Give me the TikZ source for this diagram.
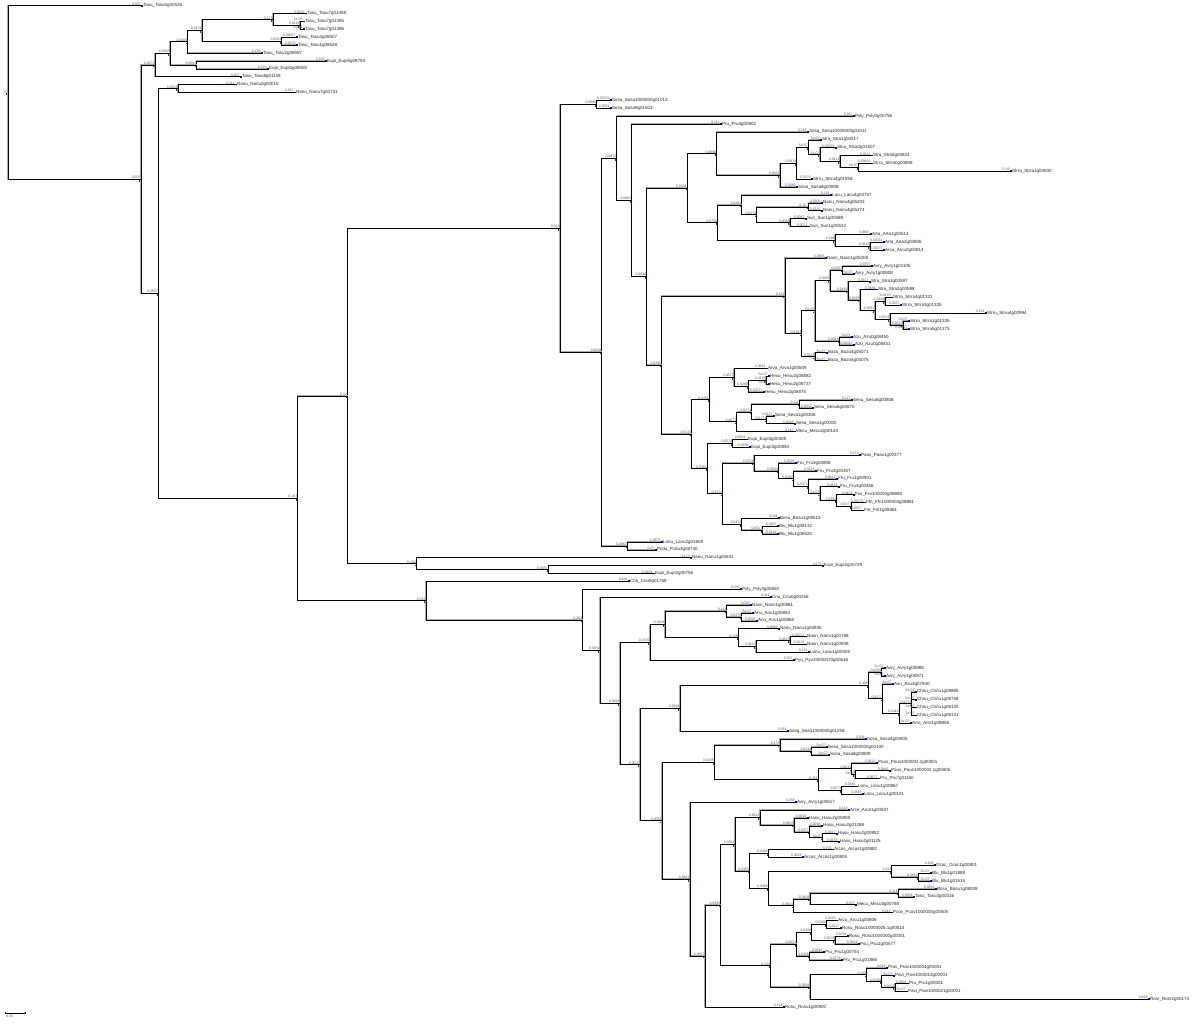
\documentclass[tikz,border=0pt]{standalone}
\usepackage{fontspec}
\setmainfont{Liberation Sans}
\usetikzlibrary{calc}
\tikzset{
 br/.style={line width=0.5pt, black, preaction={draw=gray!65, line width=1.3pt}},
 bl/.style={font=\fontsize{3.5}{4}\selectfont, text=black!65, inner sep=0.25pt, anchor=south east},
 nm/.style={font=\fontsize{4.5}{5}\selectfont, text=black!85, inner sep=0pt, anchor=west},
 leafmark/.style={fill=blue!75!black},
 nodemark/.style={fill=red!80!black},
}
\newcommand\Lf[5]{\coordinate (#1) at (#2,{5.7+7.886*#3});
 \fill[leafmark] ($(#1)+(0.3,0.9)$) rectangle ++(1.2,-1.8);
 \node[nm] at ($(#1)+(1.8,0)$) {#4\_#5};}
\newcommand\Nd[6]{\coordinate (tmpm) at ($(#3)!0.5!(#5)$);
 \coordinate (tmpx) at (#2,0);
 \coordinate (#1) at (tmpm -| tmpx);
 \draw[br] (#3) -- (#3 -| #1) -- (#5 -| #1) -- (#5);
 \node[bl] at (#3) {#4};
 \node[bl] at (#5) {#6};
 \fill[nodemark] ($(#1)+(-1.7,0.9)$) rectangle ++(1,1.5);}
\newcommand\Br[3]{\draw[br] (#2 -| #1) -- (#2); \node[bl] at (#2) {#3};}
\begin{document}
\begin{tikzpicture}[x=1pt,y=-1pt]
\fill[white] (0,0) rectangle (1200,1024);
\useasboundingbox (0,0) rectangle (1200,1024);
% ---------------- leaves ----------------
\Lf{L0}{141}{0}{Tasu}{Tasu0g00526}
\Lf{L1}{305}{1}{Tasu}{Tasu7g01459}
\Lf{L2}{303}{2}{Tasu}{Tasu7g01395}
\Lf{L3}{303}{3}{Tasu}{Tasu7g01396}
\Lf{L4}{296}{4}{Tasu}{Tasu4g08507}
\Lf{L5}{296}{5}{Tasu}{Tasu1g08528}
\Lf{L6}{261}{6}{Tasu}{Tasu2g08597}
\Lf{L7}{325}{7}{Eupi}{Eupi5g08754}
\Lf{L8}{267}{8}{Eupi}{Eupi0g08550}
\Lf{L9}{240}{9}{Tasu}{Tasu8g01159}
\Lf{L10}{235}{10}{Nanu}{Nanu2g00015}
\Lf{L11}{294}{11}{Nanu}{Nanu7g00731}
\Lf{L12}{610}{12}{Sosa}{Sosa1000000g01013}
\Lf{L13}{610}{13}{Sosa}{Sosa9g01503}
\Lf{L14}{853}{14}{Pxly}{Pxly0g00756}
\Lf{L15}{720}{15}{Pru}{Pru4g00802}
\Lf{L16}{807}{16}{Sosq}{Sosq10000000g01011}
\Lf{L17}{820}{17}{Stra}{Stra1g00517}
\Lf{L18}{835}{18}{Stca}{Stca0g01507}
\Lf{L19}{871}{19}{Stra}{Stra5g00824}
\Lf{L20}{871}{20}{Strra}{Strra0g00808}
\Lf{L21}{1010}{21}{Strra}{Strra1g00830}
\Lf{L22}{811}{22}{Strru}{Strru4g01858}
\Lf{L23}{796}{23}{Sosa}{Sosa8g00808}
\Lf{L24}{830}{24}{Lacu}{Lacu4g00757}
\Lf{L25}{821}{25}{Nanu}{Nanu4g05203}
\Lf{L26}{821}{26}{Nanu}{Nanu4g05274}
\Lf{L27}{805}{27}{Sun}{Sun1g00588}
\Lf{L28}{808}{28}{Sun}{Sun1g00522}
\Lf{L29}{870}{29}{Arta}{Arta1g00514}
\Lf{L30}{883}{30}{Arta}{Arta2g00806}
\Lf{L31}{883}{31}{Arcu}{Arcu2g00814}
\Lf{L32}{825}{32}{Nasn}{Nasn1g05008}
\Lf{L33}{871}{33}{Avry}{Avry1g01105}
\Lf{L34}{853}{34}{Avry}{Avry1g00808}
\Lf{L35}{869}{35}{Stra}{Stra1g00597}
\Lf{L36}{876}{36}{Stra}{Stra2g00598}
\Lf{L37}{891}{37}{Strra}{Strra4g01331}
\Lf{L38}{900}{38}{Strra}{Strra3g01335}
\Lf{L39}{985}{39}{Strru}{Strru4g00994}
\Lf{L40}{908}{40}{Strra}{Strra1g01335}
\Lf{L41}{908}{41}{Strra}{Strra5g01375}
\Lf{L42}{851}{42}{Azu}{Azu0g08450}
\Lf{L43}{853}{43}{Azu}{Azu0g08451}
\Lf{L44}{826}{44}{Bazo}{Bazo4g05071}
\Lf{L45}{826}{45}{Bazo}{Bazo4g05075}
\Lf{L46}{766}{46}{Arva}{Arva1g00509}
\Lf{L47}{768}{47}{Hexu}{Hexu2g08882}
\Lf{L48}{768}{48}{Hexu}{Hexu2g08737}
\Lf{L49}{763}{49}{Hexu}{Hexu2g08875}
\Lf{L50}{851}{50}{Sesu}{Sesu6g00808}
\Lf{L51}{812}{51}{Sesu}{Sesu6g00870}
\Lf{L52}{773}{52}{Sesa}{Sesa1g00308}
\Lf{L53}{794}{53}{Sesa}{Sesa1g00300}
\Lf{L54}{794}{54}{Mecu}{Mecu2g00143}
\Lf{L55}{746}{55}{Eupi}{Eupi3g00308}
\Lf{L56}{749}{56}{Eupi}{Eupi3g00850}
\Lf{L57}{859}{57}{Paax}{Paax1g00377}
\Lf{L58}{795}{58}{Fru}{Fru3g00808}
\Lf{L59}{815}{59}{Fru}{Fru3g00357}
\Lf{L60}{836}{60}{Fru}{Fru1g00901}
\Lf{L61}{838}{61}{Fru}{Fru4g00356}
\Lf{L62}{853}{62}{Fxx}{Fxx100000g08885}
\Lf{L63}{864}{63}{Ffn}{Ffn1000004g08881}
\Lf{L64}{862}{64}{Fnt}{Fnt1g08461}
\Lf{L65}{778}{65}{Bosu}{Bosu1g08515}
\Lf{L66}{777}{66}{Blu}{Blu1g08132}
\Lf{L67}{777}{67}{Blu}{Blu1g08520}
\Lf{L68}{661}{68}{Lonu}{Lonu2g01808}
\Lf{L69}{655}{69}{Pcdu}{Pcdu3g08740}
\Lf{L70}{690}{70}{Nanu}{Nanu1g00631}
\Lf{L71}{822}{71}{Eupi}{Eupi2g00729}
\Lf{L72}{653}{72}{Eupi}{Eupi2g00756}
\Lf{L73}{628}{73}{Cnu}{Cnu9g01768}
\Lf{L74}{740}{74}{Pxly}{Pxly3g00650}
\Lf{L75}{770}{75}{Cnu}{Cnu0g00256}
\Lf{L76}{750}{76}{Nasn}{Nasn1g00861}
\Lf{L77}{752}{77}{Anu}{Anu1g00854}
\Lf{L78}{756}{78}{Anu}{Anu1g00865}
\Lf{L79}{778}{79}{Nanu}{Nanu1g00835}
\Lf{L80}{805}{80}{Nann}{Nann1g00788}
\Lf{L81}{805}{81}{Nann}{Nann1g00938}
\Lf{L82}{808}{82}{Lonu}{Lonu1g00505}
\Lf{L83}{793}{83}{Pyu}{Pyu10000070g00616}
\Lf{L84}{884}{84}{Avry}{Avry1g00888}
\Lf{L85}{884}{85}{Avry}{Avry1g00871}
\Lf{L86}{892}{86}{Asu}{Asu3g07940}
\Lf{L87}{915}{87}{Chnu}{Chnu1g08885}
\Lf{L88}{915}{88}{Chnu}{Chnu1g08758}
\Lf{L89}{915}{89}{Chnu}{Chnu1g08125}
\Lf{L90}{915}{90}{Chnu}{Chnu1g08131}
\Lf{L91}{910}{91}{Arro}{Arro1g08858}
\Lf{L92}{787}{92}{Sosq}{Sosq1000000g01258}
\Lf{L93}{865}{93}{Sosa}{Sosa4g00805}
\Lf{L94}{826}{94}{Sosa}{Sosa1000000g00100}
\Lf{L95}{828}{95}{Sosa}{Sosa8g00809}
\Lf{L96}{876}{96}{Pous}{Pous1000002.1g00001}
\Lf{L97}{889}{97}{Pous}{Pous1000002.1g00005}
\Lf{L98}{878}{98}{Pru}{Pru7g01150}
\Lf{L99}{856}{99}{Lonu}{Lonu1g00867}
\Lf{L100}{862}{100}{Lonu}{Lonu1g00101}
\Lf{L101}{795}{101}{Avry}{Avry1g00617}
\Lf{L102}{848}{102}{Arce}{Arce1g00507}
\Lf{L103}{807}{103}{Hasu}{Hasu2g00808}
\Lf{L104}{821}{104}{Hasu}{Hasu2g01288}
\Lf{L105}{836}{105}{Hasu}{Hasu2g00882}
\Lf{L106}{838}{106}{Hasu}{Hasu2g01125}
\Lf{L107}{832}{107}{Arcos}{Arcos1g00882}
\Lf{L108}{802}{108}{Arcos}{Arcos1g00805}
\Lf{L109}{934}{109}{Ococ}{Ococ1g00801}
\Lf{L110}{930}{110}{Blu}{Blu1g01888}
\Lf{L111}{930}{111}{Blu}{Blu1g01515}
\Lf{L112}{935}{112}{Bosu}{Bosu1g08008}
\Lf{L113}{913}{113}{Tasu}{Tasu3g00316}
\Lf{L114}{855}{114}{Mecu}{Mecu3g00768}
\Lf{L115}{891}{115}{Pcov}{Pcov1000000g00505}
\Lf{L116}{836}{116}{Arcu}{Arcu1g00806}
\Lf{L117}{840}{117}{Rosu}{Rosu10000005.1g00014}
\Lf{L118}{847}{118}{Rosu}{Rosu1000000g00001}
\Lf{L119}{858}{119}{Psu}{Psu1g00577}
\Lf{L120}{823}{120}{Pru}{Pru1g00754}
\Lf{L121}{841}{121}{Pru}{Pru1g01866}
\Lf{L122}{886}{122}{Prav}{Prav1000004g00001}
\Lf{L123}{893}{123}{Pavi}{Pavi1000013g00001}
\Lf{L124}{907}{124}{Pru}{Pru1g00001}
\Lf{L125}{906}{125}{Pavi}{Pavi1000021g00001}
\Lf{L126}{1148}{126}{Rosr}{Rosr2g00174}
\Lf{L127}{783}{127}{Rosu}{Rosu1g00900}
% ---------------- top clade ----------------
\Nd{n300}{300}{L2}{1e-06}{L3}{1e-06}
\Nd{n273}{273}{L1}{0.0502}{n300}{0.0118}
\Nd{n282}{281.7}{L4}{0.00007}{L5}{0.0378}
\Nd{n202}{202}{n273}{0.172}{n282}{0.0564}
\Nd{n188}{187.7}{n202}{0.0479}{L6}{0.176}
\Nd{n197}{196.7}{L7}{0.335}{L8}{0.159}
\Nd{n170}{170}{n188}{0.0408}{n197}{0.0504}
\Nd{n155}{155}{n170}{0.0368}{L9}{0.207}
\Nd{n178}{178}{L10}{0.111}{L11}{0.287}
% ---------------- central clade ----------------
\Nd{n597}{596.7}{L12}{0.00705}{L13}{0.0281}
\Nd{n858}{858.3}{L20}{0.00603}{L21}{0.18}
\Nd{n840}{840}{L19}{0.0312}{n858}{5e-07}
\Nd{n820}{820}{L18}{0.00703}{n840}{0.0413}
\Nd{n808}{808.3}{L17}{5e-07}{n820}{5e-07}
\Nd{n797}{796.7}{n808}{5e-07}{L22}{0.0379}
\Nd{n780}{780}{n797}{0.0813}{L23}{0.0389}
\Nd{n717}{716.7}{L16}{0.219}{n780}{0.0554}
\Nd{n808b}{808.3}{L25}{0.0305}{L26}{0.0325}
\Nd{n790}{790}{L27}{0.0067}{L28}{0.0071}
\Nd{n757}{756.7}{n808b}{0.117}{n790}{0.0086}
\Nd{n742}{741.7}{L24}{0.216}{n757}{0.0174}
\Nd{n870}{870}{L30}{0.00311}{L31}{0.00375}
\Nd{n835}{835}{L29}{0.0863}{n870}{0.0322}
\Nd{n718}{717.7}{n742}{0.0263}{n835}{0.196}
\Nd{n687}{687.3}{n717}{0.0686}{n718}{0.0756}
\Nd{nG}{842.7}{L33}{0.0707}{L34}{5e-07}
\Nd{nA}{885}{L37}{0.0179}{L38}{0.0337}
\Nd{nC2}{903}{L40}{5e-07}{L41}{0.00417}
\Nd{nB}{890}{L39}{0.234}{nC2}{0.0323}
\Nd{n875}{875}{nA}{0.0244}{nB}{0.0376}
\Nd{n860}{860}{L36}{0.0389}{n875}{0.0367}
\Nd{n848}{848}{L35}{0.0517}{n860}{0.0295}
\Nd{n830}{830}{nG}{0.0307}{n848}{0.0419}
\Nd{nF}{839.3}{L42}{5e-07}{L43}{0.00411}
\Nd{n815c}{815}{n830}{0.0285}{nF}{0.0618}
\Nd{n815d}{815}{L44}{5e-07}{L45}{5e-07}
\Nd{n802}{801.7}{n815c}{5e-07}{n815d}{0.0328}
\Nd{n785}{785}{L32}{0.0966}{n802}{0.0383}
\Nd{n766}{766}{L47}{5e-07}{L48}{5e-07}
\Nd{n748}{748.3}{n766}{0.0135}{L49}{0.00727}
\Nd{n734}{734}{L46}{0.0681}{n748}{0.0288}
\Nd{n799}{799.3}{L50}{0.127}{L51}{0.0356}
\Nd{n767}{766.7}{L52}{0.0137}{L53}{0.0348}
\Nd{n752}{751.7}{n799}{0.111}{n767}{0.0171}
\Nd{n737}{736.7}{n752}{0.0274}{L54}{0.142}
\Nd{n709}{709.3}{n734}{0.0637}{n737}{0.0677}
\Nd{n733}{732.7}{L55}{0.0334}{L56}{0.0388}
\Nd{n852}{851.7}{L63}{0.00775}{L64}{0.0257}
\Nd{n837}{836.7}{L62}{0.0454}{n852}{0.0377}
\Nd{n820b}{820}{L61}{0.0434}{n837}{0.0391}
\Nd{n808c}{808.3}{L60}{0.0647}{n820b}{5e-07}
\Nd{n793}{793.3}{L59}{0.0521}{n808c}{0.0373}
\Nd{n778}{778.3}{L58}{0.0398}{n793}{0.0392}
\Nd{n754}{754}{L57}{0.253}{n778}{0.0604}
\Nd{n763}{762.7}{L66}{0.0387}{L67}{0.0314}
\Nd{n742b}{741.7}{L65}{0.098}{n763}{0.0517}
\Nd{n723}{722.7}{n754}{0.0734}{n742b}{0.0474}
\Nd{n707}{707.3}{n733}{0.0579}{n723}{0.0372}
\Nd{n692}{691.7}{n709}{0.0441}{n707}{0.0394}
\Nd{n662}{661.7}{n785}{0.182}{n692}{0.0725}
\Nd{n647}{646.7}{n687}{0.0506}{n662}{0.0395}
\Nd{n632}{631.7}{L15}{0.111}{n647}{0.0626}
\Nd{n617}{616.7}{L14}{0.367}{n632}{0.0863}
\Nd{n627}{627.3}{L68}{0.0875}{L69}{0.07}
\Nd{n602}{601.7}{n617}{0.0872}{n627}{0.0862}
\Nd{n560}{560}{n597}{0.0085}{n602}{0.0848}
\Nd{n548}{548.3}{L71}{0.675}{L72}{0.0484}
\Nd{n416}{416.4}{L70}{0.473}{n548}{0.0457}
\Nd{n348}{347.5}{n560}{0.563}{n416}{0.166}
% ---------------- bottom clade ----------------
\Nd{n742c}{741.7}{L77}{5e-07}{L78}{0.0395}
\Nd{n727}{726.7}{L76}{0.058}{n742c}{0.0375}
\Nd{n790b}{790}{L80}{0.00727}{L81}{0.0176}
\Nd{n756}{756}{n790b}{0.0813}{L82}{0.131}
\Nd{n738}{738.3}{L79}{0.0986}{n756}{0.0437}
\Nd{P1}{665}{n727}{0.113}{n738}{0.139}
\Nd{P2}{650}{P1}{0.0334}{L83}{0.352}
\Nd{n882a}{881.7}{L84}{5e-07}{L85}{5e-07}
\Nd{n912}{911.7}{L87}{5e-07}{L90}{5e-07}
\Br{n912}{L88}{5e-07}
\Br{n912}{L89}{5e-07}
\Nd{n899}{899.3}{n912}{0.0317}{L91}{5e-07}
\Nd{n883}{882.7}{L86}{5e-07}{n899}{0.0412}
\Nd{n868}{868.3}{n882a}{0.0285}{n883}{0.0372}
\Nd{T0}{680}{n868}{0.408}{L92}{0.261}
\Nd{n812}{811.7}{L94}{5e-07}{L95}{5e-07}
\Nd{n780b}{780}{L93}{0.208}{n812}{0.0334}
\Nd{n855}{855}{L97}{0.0846}{L98}{0.0577}
\Nd{n852b}{851.7}{L96}{0.0613}{n855}{5e-07}
\Nd{n842}{841.7}{L99}{0.0346}{L100}{0.0498}
\Nd{n818}{818.3}{n852b}{0.0814}{n842}{0.0573}
\Nd{n714}{714.3}{n780b}{0.172}{n818}{0.256}
\Nd{n823}{822.7}{L105}{0.0327}{L106}{0.0378}
\Nd{n809}{809.3}{L104}{0.0294}{n823}{5e-07}
\Nd{n794}{794}{L103}{0.0319}{n809}{0.0377}
\Nd{n760}{760}{L102}{0.218}{n794}{0.0833}
\Nd{n768a}{768.3}{L107}{0.156}{L108}{0.0818}
\Nd{n918}{918.3}{L110}{5e-07}{L111}{5e-07}
\Nd{n892}{891.7}{L109}{0.106}{n918}{0.0652}
\Nd{n898}{898.3}{L112}{0.0893}{L113}{0.0364}
\Nd{n810}{810}{n898}{0.216}{L114}{0.107}
\Nd{n793b}{793.3}{n810}{0.0408}{L115}{0.241}
\Nd{n768b}{768.3}{n892}{0.323}{n793b}{0.0613}
\Nd{n749}{749.3}{n768a}{0.0466}{n768b}{0.0466}
\Nd{n735}{735}{n760}{0.0613}{n749}{0.0353}
\Nd{n827}{826.7}{L116}{0.0229}{L117}{0.0317}
\Nd{n835b}{835}{L118}{0.0294}{L119}{0.0564}
\Nd{n812b}{811.7}{n827}{0.0368}{n835b}{0.0575}
\Nd{n809b}{809.3}{L120}{0.0343}{L121}{0.0779}
\Nd{n797b}{796.7}{n812b}{0.0368}{n809b}{0.0328}
\Nd{n895}{895}{L124}{0.0302}{L125}{5e-07}
\Nd{n882b}{881.7}{L123}{5e-07}{n895}{0.0328}
\Nd{n867}{866.7}{L122}{0.049}{n882b}{0.0368}
\Nd{n810c}{810}{n867}{0.139}{L126}{0.828}
\Nd{n771}{770.7}{n797b}{0.0637}{n810c}{0.0958}
\Nd{n721}{720.7}{n735}{0.0352}{n771}{0.123}
\Nd{n705}{705}{n721}{0.0382}{L127}{0.191}
\Nd{n690}{690}{L101}{0.258}{n705}{0.0367}
\Nd{T1}{662}{n714}{0.0235}{n690}{0.0461}
\Nd{T3}{640}{T0}{0.0994}{T1}{0.0556}
\Nd{nY}{620}{P2}{0.0735}{T3}{0.0502}
\Nd{n600b}{600}{L75}{0.411}{nY}{0.0494}
\Nd{n583}{582.7}{L74}{0.385}{n600b}{0.0363}
\Nd{n426}{426}{L73}{0.496}{n583}{0.382}
% ---------------- backbone ----------------
\Nd{n298}{297.7}{n348}{0.12}{n426}{0.315}
\Nd{n158}{158.4}{n178}{0.0353}{n298}{0.183}
\Nd{n141}{141}{n155}{0.0271}{n158}{0.0867}
\Nd{root}{8}{L0}{0.305}{n141}{0.205}
\node[bl, anchor=south, rotate=90] (rootlab) at ($(root)+(-1.2,0)$) {r1};
% ---------------- scale bar ----------------
\coordinate (sb1) at (5,1013);
\coordinate (sb2) at (25,1013);
\draw[line width=0.4pt] (sb1) -- (sb2);
\draw[line width=0.4pt] ($(sb1)+(0,-1.2)$) -- ($(sb1)+(0,1.2)$);
\draw[line width=0.4pt] ($(sb2)+(0,-1.2)$) -- ($(sb2)+(0,1.2)$);
\node[bl, anchor=north west] (sbl) at ($(sb1)+(1,1.8)$) {0.05};
\end{tikzpicture}
\end{document}
